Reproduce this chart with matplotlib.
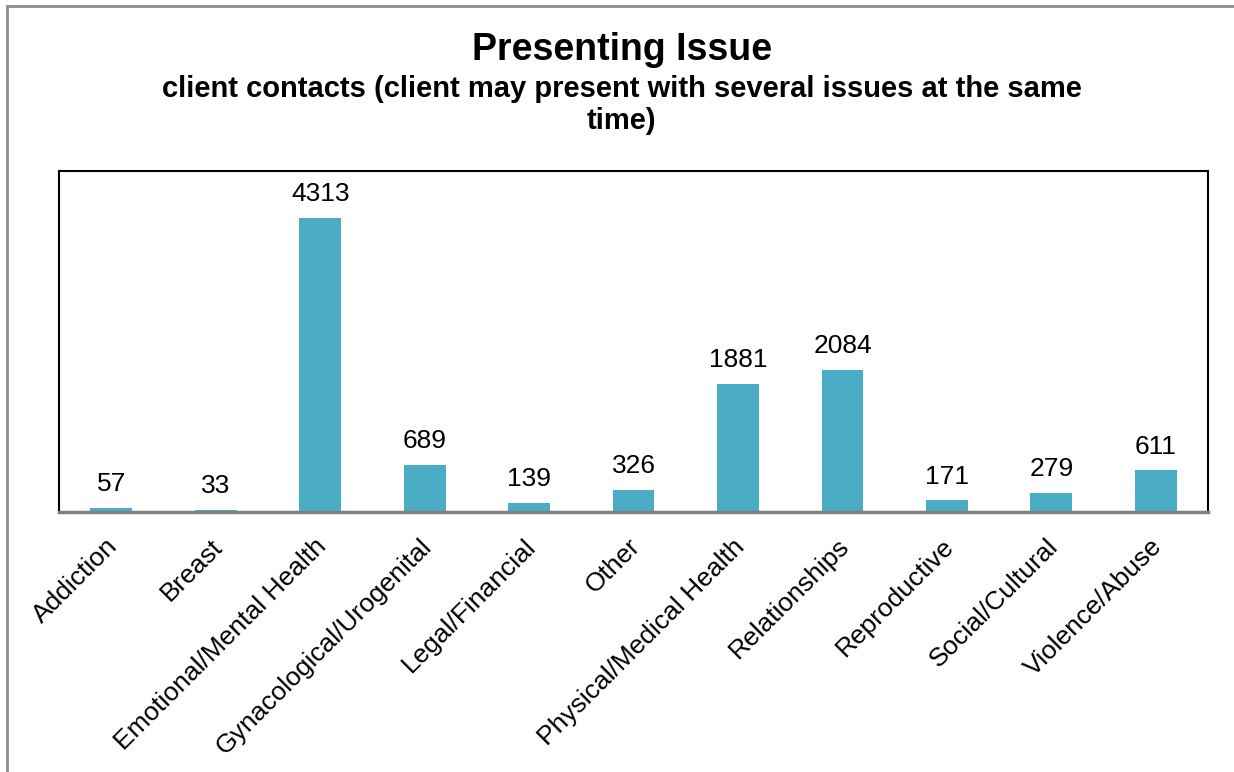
import matplotlib.pyplot as plt
import matplotlib.transforms as mtransforms
from matplotlib.patches import Rectangle

plt.rcParams['font.family'] = ['Liberation Sans', 'DejaVu Sans']

# Presenting issue counts
issues = ['Addiction', 'Breast', 'Emotional/Mental Health', 'Gynacological/Urogenital',
          'Legal/Financial', 'Other', 'Physical/Medical Health', 'Relationships',
          'Reproductive', 'Social/Cultural', 'Violence/Abuse']
contacts = [57, 33, 4313, 689, 139, 326, 1881, 2084, 171, 279, 611]

bar_color = '#4BACC6'


def main():
    fig = plt.figure(figsize=(12.34, 7.72), dpi=100)
    ax = fig.add_axes([0.0478, 0.3368, 0.9312, 0.4417])

    x = range(len(issues))
    ax.bar(x, contacts, width=0.4, color=bar_color, zorder=2)
    for xi, v in zip(x, contacts):
        ax.annotate(str(v), (xi, v), xytext=(0, 12), textcoords='offset points',
                    ha='center', va='baseline', fontsize=19)

    ax.set_xlim(-0.5, len(issues) - 0.5)
    ax.set_ylim(0, 5000)
    ax.set_yticks([])
    ax.set_xticks(list(x))
    ax.set_xticklabels(issues, rotation=45, ha='right', va='top',
                       rotation_mode='anchor', fontsize=19)
    ax.tick_params(axis='x', length=0, pad=16)
    # nudge the slanted labels a little to the left
    shift = mtransforms.ScaledTranslation(-4 / 72, 0, fig.dpi_scale_trans)
    for lbl in ax.get_xticklabels():
        lbl.set_transform(lbl.get_transform() + shift)
    for side in ['left', 'top', 'right']:
        ax.spines[side].set_color('black')
        ax.spines[side].set_linewidth(1.5)
    ax.spines['bottom'].set_color('#808080')
    ax.spines['bottom'].set_linewidth(2.5)

    fig.text(0.504, 0.935, 'Presenting Issue', ha='center', va='center',
             fontsize=27, fontweight='bold')
    fig.text(0.504, 0.864, 'client contacts (client may present with several issues at the same\ntime)',
             ha='center', va='center', fontsize=21, fontweight='bold', linespacing=1.2)

    # outer chart frame
    fig.patches.append(Rectangle((7 / 1234, -0.1), 1.2, 1.1 - 6 / 772,
                                 transform=fig.transFigure, fill=False,
                                 edgecolor='#8c8c8c', linewidth=2))

    fig.savefig('out.png', dpi=100)
    plt.close(fig)


if __name__ == '__main__':
    main()
